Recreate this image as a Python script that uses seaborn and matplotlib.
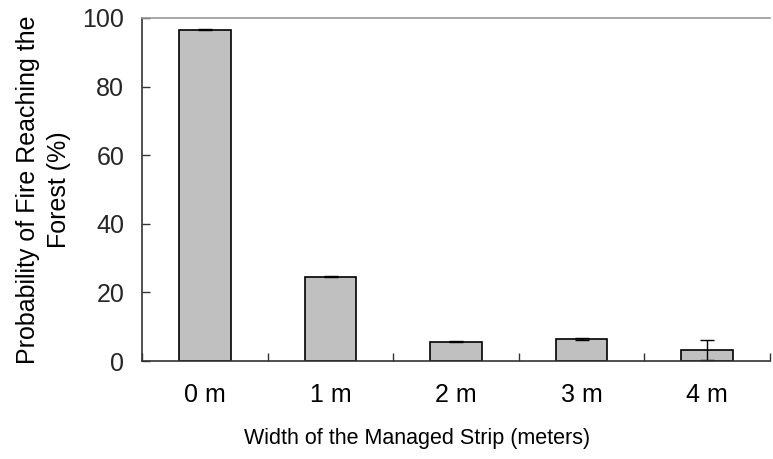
import matplotlib
matplotlib.use("Agg")
import matplotlib.pyplot as plt
import seaborn as sns
import numpy as np

sns.set_theme(style="white")
plt.rcParams['font.family'] = ['Liberation Sans', 'DejaVu Sans']

strip_width = ["0 m", "1 m", "2 m", "3 m", "4 m"]
prob_fire = [96.6, 24.6, 5.6, 6.4, 3.1]
prob_err = [0.2, 0.2, 0.2, 0.2, 2.9]

fig = plt.figure(figsize=(7.73, 4.59), dpi=100)
ax = fig.add_axes([0.184, 0.2135, 0.812, 0.7475])

sns.barplot(x=strip_width, y=prob_fire, color="#c0c0c0", edgecolor="black",
            linewidth=1.2, width=0.41, saturation=1, ax=ax)
ax.errorbar(np.arange(len(strip_width)), prob_fire, yerr=prob_err, fmt="none",
            ecolor="black", elinewidth=1, capsize=5, capthick=1)

ax.set_xlim(-0.5, 4.5)
ax.set_ylim(0, 100)
ax.set_yticks([0, 20, 40, 60, 80, 100])
ax.set_xticks(np.arange(len(strip_width)))
ax.set_xticklabels(strip_width)
# small ticks between the categories
ax.set_xticks(np.arange(-0.5, 5, 1), minor=True)
ax.tick_params(axis="x", which="major", length=0, labelsize=18, pad=16, colors="black")
ax.tick_params(axis="x", which="minor", direction="in", length=6, width=1, color="#333333", bottom=True)
ax.tick_params(axis="y", direction="in", length=6, width=1, color="#333333", labelsize=18, pad=13, left=True)

for s in ["left", "bottom"]:
    ax.spines[s].set_color("#333333")
    ax.spines[s].set_linewidth(1.2)
ax.spines["right"].set_visible(False)
ax.spines["top"].set_color("#999999")
ax.spines["top"].set_linewidth(1.2)

ax.set_xlabel("Width of the Managed Strip (meters)", fontsize=15.5, color="black")
ax.xaxis.set_label_coords(0.438, -0.195)
ax.set_ylabel("Probability of Fire Reaching the\nForest (%)", fontsize=18,
              labelpad=8, color="black", linespacing=1.4)

fig.savefig("out.png", dpi=100)
